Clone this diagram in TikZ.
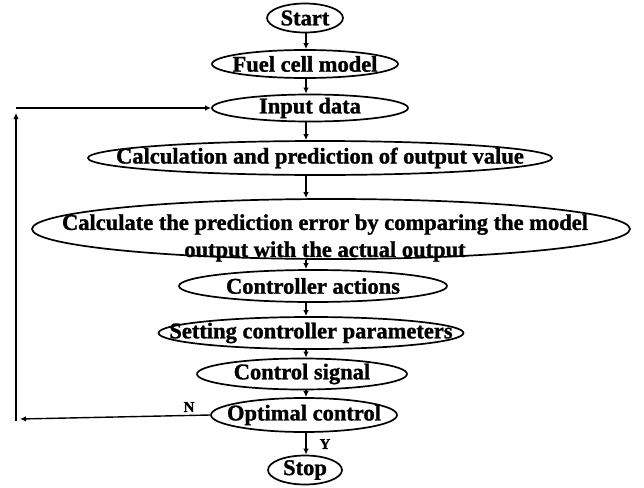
\documentclass[tikz,border=0pt]{standalone}
\usepackage{fontspec}
\setmainfont{Liberation Serif}[BoldFeatures={FakeBold=1.2}]
\usetikzlibrary{shapes.geometric,arrows.meta}

\tikzset{
  stage/.style={ellipse, draw, line width=1.7pt, inner sep=0pt},
  flow/.style={-{Latex[length=6pt,width=5.5pt]}, line width=1.4pt},
  every label/.style={font=\fontsize{22.5}{27}\selectfont\bfseries, inner sep=0pt},
  answer/.style={font=\fontsize{15}{18}\selectfont\bfseries, inner sep=0pt}
}

\begin{document}
\begin{tikzpicture}[x=1pt,y=-1pt]

      \useasboundingbox (0,0) rectangle (644,487);

      \coordinate (axis) at (306,0);

      \node[stage, minimum width=76pt,  minimum height=29pt, label=center:Start] (start) at (305,18) {};
      \node[stage, minimum width=186pt, minimum height=28pt, label=center:Fuel cell model] (model) at (305,64) {};
      \node[stage, minimum width=196pt, minimum height=27pt, label=center:Input data] (input) at (310,108) {};
      \node[stage, minimum width=464pt, minimum height=34pt, label=center:Calculation and prediction of output value] (predict) at (320,158) {};
      \node[stage, minimum width=598pt, minimum height=60pt,
            label={[align=center, xshift=-6pt, yshift=-9pt]center:Calculate the prediction error by comparing the model\\output with the actual output}] (error) at (331,229) {};
      \node[stage, minimum width=268pt, minimum height=32pt, label=center:Controller actions] (actions) at (313,286) {};
      \node[stage, minimum width=305pt, minimum height=32pt, label=center:Setting controller parameters] (params) at (311,333) {};
      \node[stage, minimum width=210pt, minimum height=31pt, label=center:Control signal] (signal) at (302,374) {};
      \node[stage, minimum width=186pt, minimum height=34pt, label=center:Optimal control] (optimal) at (304,415) {};
      \node[stage, minimum width=74pt,  minimum height=29pt, label=center:Stop] (stop) at (305,470) {};

      \node[answer] (no)  at (189,407) {N};
      \node[answer] (yes) at (325,444) {Y};

      \coordinate (back)   at (20,419);
      \coordinate (upfoot) at (16,421);
      \coordinate (uptop)  at (16,113);
      \coordinate (feed)   at (16,108);

      \begin{scope}[every edge/.style={draw, flow}]
        \path (axis |- start.south)   edge (axis |- model.north);
        \path (axis |- model.south)   edge (axis |- input.north);
        \path (axis |- input.south)   edge (axis |- predict.north);
        \path (axis |- predict.south) edge (axis |- error.north);
        \path (axis |- error.south)   edge (axis |- actions.north);
        \path (axis |- actions.south) edge (axis |- params.north);
        \path (axis |- params.south)  edge (axis |- signal.north);
        \path (axis |- signal.south)  edge (axis |- optimal.north);
        \path (axis |- optimal.south) edge (axis |- stop.north);

        \path (optimal.west) edge (back);
        \path (upfoot) edge (uptop);
        \path (feed) edge (input.west);
      \end{scope}

    \end{tikzpicture}
\end{document}
